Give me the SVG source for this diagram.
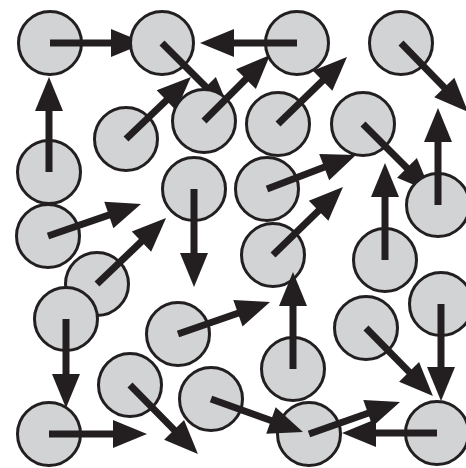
<svg xmlns="http://www.w3.org/2000/svg" width="466" height="468" viewBox="0 0 466 468">
<style>
.n circle{fill:#d1d3d4;stroke:#231f20;stroke-width:3}
.c line{stroke:#231f20;stroke-width:7;marker-end:url(#ah)}
</style>
<defs>
<marker id="ah" markerUnits="userSpaceOnUse" viewBox="0 0 34 28" markerWidth="34" markerHeight="28" refX="6" refY="14" orient="auto" overflow="visible">
<path d="M0,0 L34,14 L0,28 Z" fill="#231f20"/>
</marker>
</defs>
<rect width="466" height="468" fill="#fff"/>
<g id="nodes-1">
<g id="node-A" class="n"><circle cx="50" cy="43" r="31.5"/></g>
<g id="node-H" class="n"><circle cx="297" cy="43" r="31.5"/></g>
<g id="node-I" class="n"><circle cx="401" cy="43" r="31.5"/></g>
<g id="node-C" class="n"><circle cx="126" cy="139" r="31.5"/></g>
<g id="node-J" class="n"><circle cx="278" cy="124" r="31.5"/></g>
<g id="node-K" class="n"><circle cx="363" cy="124" r="31.5"/></g>
<g id="node-E" class="n"><circle cx="49" cy="172" r="31.5"/></g>
<g id="node-F" class="n"><circle cx="194" cy="189" r="31.5"/></g>
<g id="node-M" class="n"><circle cx="267" cy="189" r="31.5"/></g>
<g id="node-G" class="n"><circle cx="48" cy="236" r="31.5"/></g>
<g id="node-N" class="n"><circle cx="273" cy="255" r="31.5"/></g>
<g id="node-O" class="n"><circle cx="385" cy="260" r="31.5"/></g>
<g id="node-Q" class="n"><circle cx="97" cy="284" r="31.5"/></g>
<g id="node-Z" class="n"><circle cx="441" cy="304" r="31.5"/></g>
<g id="node-R" class="n"><circle cx="66" cy="319" r="31.5"/></g>
<g id="node-S" class="n"><circle cx="178" cy="334" r="31.5"/></g>
<g id="node-AA" class="n"><circle cx="366" cy="328" r="31.5"/></g>
<g id="node-AB" class="n"><circle cx="293" cy="369" r="31.5"/></g>
<g id="node-T" class="n"><circle cx="130" cy="385" r="31.5"/></g>
<g id="node-V" class="n"><circle cx="211" cy="399" r="31.5"/></g>
<g id="node-U" class="n"><circle cx="49" cy="434" r="31.5"/></g>
<g id="node-AC" class="n"><circle cx="309" cy="434" r="31.5"/></g>
<g id="node-AD" class="n"><circle cx="437" cy="433" r="31.5"/></g>
</g>
<g id="connectors-1" class="c">
<line x1="50" y1="43" x2="117" y2="43"/>
<line x1="126" y1="139" x2="170.7" y2="96.3"/>
<line x1="363" y1="124" x2="411.2" y2="172.2"/>
</g>
<g id="node-B" class="n"><circle cx="162" cy="43" r="31.5"/></g>
<g id="connectors-2" class="c">
<line x1="162" y1="43" x2="210.2" y2="91.2"/>
</g>
<g id="nodes-2">
<g id="node-D" class="n"><circle cx="204" cy="121" r="31.5"/></g>
<g id="node-L" class="n"><circle cx="438" cy="205" r="31.5"/></g>
</g>
<g id="connectors-3" class="c">
<line x1="49" y1="172" x2="49" y2="105"/>
<line x1="297" y1="43" x2="228" y2="43"/>
<line x1="204" y1="121" x2="250.2" y2="74.8"/>
<line x1="278" y1="124" x2="326.9" y2="76.5"/>
<line x1="401" y1="43" x2="448.5" y2="91.9"/>
<line x1="438" y1="205" x2="438" y2="136"/>
<line x1="267" y1="189" x2="329.8" y2="165"/>
<line x1="385" y1="260" x2="385" y2="191"/>
<line x1="273" y1="255" x2="322.9" y2="206.5"/>
<line x1="194" y1="189" x2="194" y2="259"/>
<line x1="48" y1="236" x2="114.5" y2="213.1"/>
<line x1="97" y1="284" x2="145.8" y2="237.4"/>
<line x1="66" y1="319" x2="66" y2="380"/>
<line x1="49" y1="434" x2="119" y2="434"/>
<line x1="130" y1="385" x2="178.3" y2="434.1"/>
<line x1="178" y1="334" x2="243.6" y2="311.2"/>
<line x1="211" y1="399" x2="276.6" y2="422.5"/>
<line x1="293" y1="369" x2="293" y2="300"/>
<line x1="366" y1="328" x2="413.3" y2="376.1"/>
<line x1="441" y1="304" x2="441" y2="373"/>
<line x1="309" y1="434" x2="373.6" y2="411.3"/>
<line x1="437" y1="433" x2="370" y2="433"/>
</g>
</svg>
